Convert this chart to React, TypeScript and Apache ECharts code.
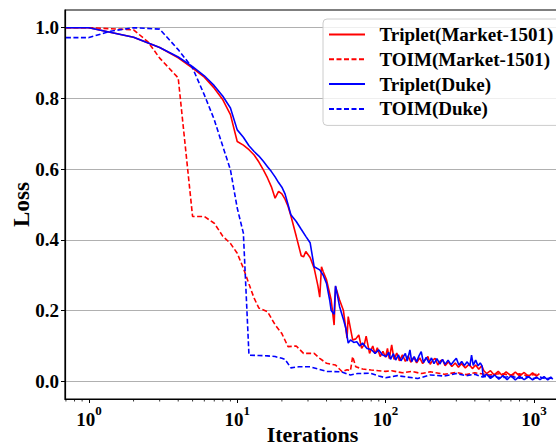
import React, { useEffect, useRef } from 'react';
import * as echarts from 'echarts';

const seriesNames = ['Triplet(Market-1501)', 'TOIM(Market-1501)', 'Triplet(Duke)', 'TOIM(Duke)'];

const tripletMarket: [number, number][] = [
  [0.7, 1.0], [1, 1.0], [2, 0.973], [3, 0.944], [4, 0.915], [5, 0.886], [6, 0.86], [7, 0.829], [8, 0.796], [9, 0.754],
  [10, 0.678], [11, 0.668], [12, 0.655], [13, 0.64], [14, 0.62], [15, 0.598], [16, 0.575], [17, 0.55], [18, 0.518],
  [19, 0.537], [20, 0.53], [21, 0.515], [22, 0.495], [23, 0.468], [25, 0.41], [27, 0.355], [28, 0.352], [29, 0.367],
  [31, 0.35], [33, 0.32], [35, 0.27], [36, 0.238], [37, 0.324], [38, 0.31], [40, 0.287], [43, 0.23], [45, 0.159],
  [46, 0.268], [49, 0.23], [52, 0.2], [55, 0.122], [56, 0.183], [60, 0.117], [63, 0.12], [66, 0.131], [69, 0.093],
  [72, 0.105], [74, 0.128], [78, 0.079], [82, 0.1], [85, 0.078], [88, 0.095], [92, 0.07], [96, 0.085], [100, 0.068],
  [103, 0.093], [106, 0.064], [110, 0.103], [114, 0.062], [119, 0.08], [124, 0.058], [130, 0.075], [136, 0.056],
  [142, 0.072], [148, 0.054], [155, 0.068], [162, 0.052], [170, 0.066], [178, 0.05], [186, 0.062], [193, 0.07],
  [200, 0.048], [208, 0.06], [216, 0.065], [225, 0.046], [234, 0.058], [243, 0.06], [252, 0.044], [265, 0.055],
  [280, 0.042], [295, 0.052], [310, 0.04], [325, 0.05], [345, 0.038], [365, 0.048], [385, 0.036], [405, 0.046],
  [425, 0.034], [445, 0.044], [460, 0.03], [480, 0.022], [510, 0.03], [540, 0.018], [575, 0.028], [610, 0.017],
  [650, 0.027], [700, 0.016], [750, 0.026], [800, 0.015], [860, 0.025], [920, 0.014], [980, 0.024], [1040, 0.015],
  [1090, 0.022],
];

const toimMarket: [number, number][] = [
  [0.7, 1.0], [1, 1.0], [2, 0.994], [2.5, 0.96], [3, 0.914], [4, 0.858], [5, 0.466], [6, 0.466], [7, 0.447],
  [8, 0.41], [9, 0.39], [10, 0.362], [11, 0.32], [12, 0.275], [13, 0.235], [14, 0.207], [16, 0.197], [18, 0.16],
  [20, 0.135], [22, 0.098], [25, 0.1], [28, 0.079], [33, 0.079], [36, 0.065], [40, 0.051], [46, 0.046], [51, 0.027],
  [55, 0.033], [58, 0.03], [60, 0.07], [63, 0.041], [70, 0.035], [80, 0.032], [90, 0.03], [100, 0.028], [110, 0.03],
  [130, 0.024], [150, 0.028], [175, 0.022], [200, 0.027], [250, 0.02], [300, 0.025], [350, 0.019], [400, 0.024],
  [500, 0.018], [600, 0.022], [700, 0.017], [800, 0.021], [900, 0.016], [1050, 0.02],
];

const tripletDuke: [number, number][] = [
  [0.7, 1.0], [1, 1.0], [2, 0.973], [3, 0.944], [4, 0.917], [5, 0.89], [6, 0.864], [7, 0.836], [8, 0.806], [9, 0.773],
  [10, 0.711], [11, 0.69], [12, 0.666], [13, 0.65], [14, 0.637], [15, 0.622], [16, 0.607], [17, 0.593], [18, 0.578],
  [19, 0.562], [20, 0.549], [21, 0.53], [22, 0.5], [23, 0.471], [25, 0.452], [27, 0.43], [29, 0.41], [31, 0.392],
  [33, 0.324], [36, 0.315], [38, 0.3], [40, 0.277], [42, 0.23], [43, 0.2], [45, 0.19], [46, 0.27], [47, 0.25],
  [49, 0.211], [52, 0.175], [54, 0.15], [56, 0.108], [58, 0.117], [61, 0.11], [64, 0.112], [67, 0.1], [70, 0.108],
  [75, 0.093], [80, 0.09], [85, 0.079], [90, 0.089], [95, 0.075], [101, 0.07], [105, 0.082], [108, 0.062],
  [113, 0.078], [117, 0.06], [122, 0.075], [127, 0.058], [132, 0.07], [136, 0.079], [140, 0.057], [146, 0.089],
  [150, 0.056], [156, 0.07], [162, 0.055], [168, 0.072], [174, 0.084], [180, 0.053], [188, 0.068], [196, 0.052],
  [204, 0.066], [212, 0.05], [222, 0.064], [232, 0.049], [242, 0.062], [252, 0.048], [264, 0.06], [276, 0.047],
  [290, 0.058], [300, 0.065], [312, 0.046], [326, 0.056], [340, 0.045], [355, 0.055], [370, 0.044], [380, 0.074],
  [390, 0.045], [405, 0.06], [420, 0.044], [435, 0.052], [448, 0.043], [455, 0.013], [480, 0.02], [510, 0.008],
  [545, 0.018], [580, 0.006], [620, 0.016], [660, 0.005], [700, 0.015], [750, 0.004], [800, 0.014], [860, 0.005],
  [920, 0.013], [980, 0.004], [1040, 0.012], [1100, 0.005], [1170, 0.013], [1240, 0.004], [1300, 0.012], [1340, 0.006],
];

const toimDuke: [number, number][] = [
  [0.7, 0.972], [1, 0.972], [1.4, 0.99], [2, 1.0], [3, 0.996], [4, 0.938], [5, 0.886], [6, 0.81], [7, 0.74],
  [8, 0.664], [9, 0.598], [10, 0.49], [11, 0.419], [12, 0.074], [14, 0.073], [16, 0.072], [18, 0.07], [20, 0.065],
  [21, 0.062], [23, 0.038], [26, 0.041], [31, 0.041], [35, 0.035], [40, 0.028], [50, 0.027], [58, 0.018], [65, 0.022],
  [79, 0.023], [90, 0.015], [100, 0.01], [120, 0.016], [140, 0.012], [165, 0.008], [200, 0.018], [250, 0.015],
  [300, 0.022], [350, 0.016], [400, 0.02], [450, 0.012], [500, 0.015], [600, 0.01], [700, 0.014], [800, 0.009],
  [900, 0.013], [1000, 0.008], [1100, 0.012], [1200, 0.007], [1340, 0.01],
];

const yTicks = [0, 0.2, 0.4, 0.6, 0.8, 1.0];
const xMinorTicks = [0.7, 0.8, 0.9, 2, 3, 4, 5, 6, 7, 8, 9, 20, 30, 40, 50, 60, 70, 80, 90, 200, 300, 400, 500, 600, 700, 800, 900];

const FONT = 'Liberation Serif, serif';
const RED = '#ff0000';
const BLUE = '#0000ff';
const DASH = [5, 2.5];

export default function App() {
  const ref = useRef<HTMLDivElement>(null);
  useEffect(() => {
    const chart = echarts.init(ref.current!, null, { renderer: 'svg' });
    const mkLine = (name: string, data: [number, number][], color: string, dashed: boolean) => ({
      name,
      type: 'line',
      data,
      symbol: 'none',
      showSymbol: false,
      itemStyle: { color },
      lineStyle: { color, width: 1.6, type: dashed ? DASH : 'solid' },
      emphasis: { disabled: true },
    });
    const option: any = {
      animation: false,
      backgroundColor: '#ffffff',
      grid: {
        left: 65,
        top: 10,
        width: 495,
        height: 389,
        show: true,
        borderColor: '#000',
        borderWidth: 1.2,
        backgroundColor: 'transparent',
        containLabel: false,
        outerBoundsMode: 'none',
      },
      legend: {
        data: seriesNames,
        orient: 'vertical',
        left: 323,
        top: 19,
        itemWidth: 36,
        itemHeight: 12,
        itemGap: 5.8,
        padding: [6, 9, 7, 5],
        backgroundColor: 'rgba(255,255,255,0.8)',
        borderColor: '#cccccc',
        borderWidth: 1,
        borderRadius: 4,
        itemStyle: { opacity: 0, borderWidth: 0 },
        formatter: (name: string) => `{t|\u00a0\u00a0${name}}`,
        textStyle: {
          fontFamily: FONT,
          fontWeight: 'bold',
          fontSize: 19,
          color: '#000',
          rich: {
            t: { fontFamily: FONT, fontWeight: 'bold', fontSize: 19, color: '#000', width: 170, lineHeight: 19 },
          },
        },
      },
      xAxis: {
        type: 'log',
        logBase: 10,
        min: 0.69,
        max: 1500,
        axisLine: { show: true, onZero: false, lineStyle: { color: '#000', width: 1.2 } },
        axisTick: { show: true, length: 4, lineStyle: { color: '#000', width: 1 } },
        splitLine: { show: false },
        minorTick: { show: false },
        axisLabel: {
          showMinLabel: false,
          showMaxLabel: false,
          margin: 5,
          formatter: (v: number) => `{b|10}{s|${Math.round(Math.log10(v))}}`,
          rich: {
            b: { fontFamily: FONT, fontWeight: 'bold', fontSize: 19, color: '#000', lineHeight: 30 },
            s: { fontFamily: FONT, fontWeight: 'bold', fontSize: 13, color: '#000', lineHeight: 13, verticalAlign: 'top' },
          },
        },
        name: 'Iterations',
        nameLocation: 'middle',
        nameGap: 24,
        nameMoveOverlap: false,
        nameTextStyle: { fontFamily: FONT, fontWeight: 'bold', fontSize: 22, color: '#000', verticalAlign: 'top' },
      },
      yAxis: {
        type: 'value',
        min: -0.05,
        max: 1.05,
        axisLine: { show: true, onZero: false, lineStyle: { color: '#000', width: 1.2 } },
        axisTick: { show: true, length: 4, customValues: yTicks, lineStyle: { color: '#000', width: 1 } },
        axisLabel: {
          customValues: yTicks,
          margin: 6,
          formatter: (v: number) => v.toFixed(1),
          fontFamily: FONT,
          fontWeight: 'bold',
          fontSize: 19,
          color: '#000',
        },
        splitLine: { show: true, lineStyle: { color: '#b0b0b0', width: 1.2 } },
        name: 'Loss',
        nameLocation: 'middle',
        nameGap: 32,
        nameMoveOverlap: false,
        nameTextStyle: { fontFamily: FONT, fontWeight: 'bold', fontSize: 23, color: '#000' },
      },
      series: [
        mkLine(seriesNames[0], tripletMarket, RED, false),
        mkLine(seriesNames[1], toimMarket, RED, true),
        mkLine(seriesNames[2], tripletDuke, BLUE, false),
        mkLine(seriesNames[3], toimDuke, BLUE, true),
        {
          type: 'custom',
          silent: true,
          clip: false,
          data: xMinorTicks.map((v) => [v, -0.05]),
          renderItem: (params: any, api: any) => {
            const p = api.coord([api.value(0), api.value(1)]);
            return {
              type: 'line',
              shape: { x1: p[0], y1: p[1], x2: p[0], y2: p[1] + 2.5 },
              style: { stroke: '#000', lineWidth: 0.8 },
            };
          },
        },
      ],
    };
    chart.setOption(option);
    return () => chart.dispose();
  }, []);
  return <div ref={ref} style={{ position: 'fixed', left: 0, top: 0, width: 556, height: 445 }} />;
}
